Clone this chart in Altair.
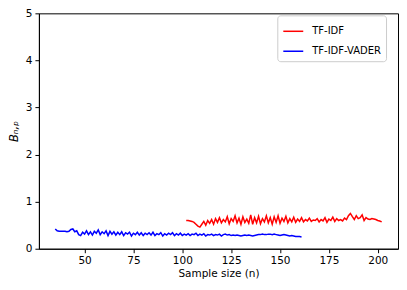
import altair as alt
import pandas as pd

blue_start = 35
blue_vals = [0.42, 0.38, 0.37, 0.37, 0.37, 0.37, 0.36, 0.37, 0.41, 0.42,
             0.36, 0.38, 0.30, 0.28, 0.35, 0.31, 0.38, 0.30, 0.36, 0.29,
             0.37, 0.33, 0.40, 0.30, 0.36, 0.32, 0.38, 0.28, 0.37, 0.31,
             0.36, 0.29, 0.35, 0.30, 0.36, 0.28, 0.34, 0.31, 0.35, 0.27,
             0.33, 0.30, 0.35, 0.29, 0.34, 0.28, 0.33, 0.30, 0.34, 0.29,
             0.35, 0.28, 0.32, 0.30, 0.34, 0.27, 0.32, 0.29, 0.33, 0.30,
             0.34, 0.28, 0.32, 0.29, 0.33, 0.28, 0.31, 0.29, 0.32, 0.28,
             0.31, 0.30, 0.33, 0.28, 0.31, 0.29, 0.32, 0.27, 0.30, 0.29,
             0.31, 0.28, 0.30, 0.29, 0.31, 0.27, 0.30, 0.31, 0.29, 0.30,
             0.28, 0.29, 0.28, 0.29, 0.28, 0.27, 0.28, 0.29, 0.28, 0.29,
             0.28, 0.27, 0.28, 0.29, 0.30, 0.30, 0.31, 0.30, 0.30, 0.31,
             0.31, 0.30, 0.31, 0.30, 0.29, 0.28, 0.29, 0.30, 0.29, 0.28,
             0.27, 0.28, 0.27, 0.26, 0.26, 0.26, 0.25]

red_start = 102
red_vals = [0.60, 0.60, 0.59, 0.58, 0.56, 0.52, 0.48, 0.46, 0.52, 0.58,
            0.50, 0.60, 0.54, 0.62, 0.52, 0.64, 0.56, 0.66, 0.55, 0.62,
            0.57, 0.68, 0.53, 0.64, 0.58, 0.70, 0.55, 0.65, 0.52, 0.68,
            0.56, 0.63, 0.54, 0.72, 0.52, 0.66, 0.55, 0.69, 0.53, 0.64,
            0.57, 0.70, 0.55, 0.66, 0.52, 0.68, 0.56, 0.70, 0.54, 0.65,
            0.58, 0.69, 0.55, 0.64, 0.57, 0.67, 0.56, 0.63, 0.58, 0.66,
            0.57, 0.62, 0.59, 0.65, 0.58, 0.61, 0.60, 0.64, 0.57, 0.62,
            0.59, 0.66, 0.56, 0.63, 0.60, 0.67, 0.58, 0.64, 0.60, 0.62,
            0.59, 0.65, 0.62, 0.70, 0.75, 0.68, 0.62, 0.70, 0.64, 0.66,
            0.72, 0.60, 0.66, 0.63, 0.62, 0.64, 0.63, 0.62, 0.60, 0.59,
            0.57]

series_names = ["TF-IDF", "TF-IDF-VADER"]
x_ticks = [50, 75, 100, 125, 150, 175, 200]
y_ticks = [0, 1, 2, 3, 4, 5]

rows = []
for i, v in enumerate(red_vals):
    rows.append({"n": red_start + i, "B": v, "series": series_names[0]})
for i, v in enumerate(blue_vals):
    rows.append({"n": blue_start + i, "B": v, "series": series_names[1]})
df = pd.DataFrame(rows)

font = "DejaVu Sans"

chart = alt.Chart(df).mark_line(strokeWidth=1.5).encode(
    x=alt.X("n:Q", title="Sample size (n)",
            scale=alt.Scale(domain=[26.65, 210.35], nice=False, zero=False),
            axis=alt.Axis(values=x_ticks, grid=False, tickSize=4, labelPadding=3,
                          titlePadding=2)),
    y=alt.Y("B:Q", title="Bₙ,ₚ",
            scale=alt.Scale(domain=[0, 5], nice=False),
            axis=alt.Axis(values=y_ticks, grid=False, tickSize=4, labelPadding=3,
                          titleFontStyle="italic", titlePadding=6,
                          titleFontSize=11.5)),
    color=alt.Color("series:N",
                    scale=alt.Scale(domain=series_names, range=["red", "blue"]),
                    legend=alt.Legend(title=None, orient="none", legendX=239, legendY=2,
                                      symbolType="stroke", symbolSize=400,
                                      symbolStrokeWidth=1.5,
                                      labelFontSize=10, labelFont=font,
                                      fillColor="white", strokeColor="#cccccc",
                                      cornerRadius=3, padding=5, rowPadding=4,
                                      labelOffset=8)),
    order="n:Q",
    detail="series:N",
).properties(
    width=360, height=236,
    autosize=alt.AutoSizeParams(type="none"),
    padding={"left": 31, "top": 5, "right": 1, "bottom": 33},
).configure_view(
    stroke="black", strokeWidth=1
).configure_axis(
    domainColor="black", tickColor="black", labelColor="black", titleColor="black",
    labelFont=font, titleFont=font, labelFontSize=10.5, titleFontSize=10.5,
    titleFontWeight="normal", domainWidth=1
)

chart.save("out.html", embed_options={"renderer": "svg", "actions": False})
